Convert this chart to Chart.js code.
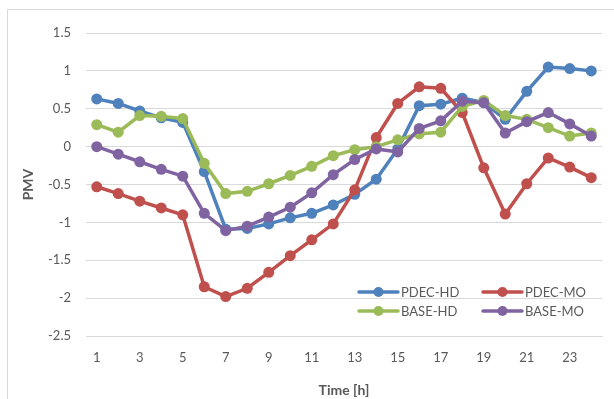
<!DOCTYPE html>
<html>
<head>
<meta charset="utf-8">
<script src="https://cdn.jsdelivr.net/npm/chart.js@4.4.1/dist/chart.umd.min.js"></script>
<style>
    html, body { margin: 0; padding: 0; background: #fff; }
</style>
</head>
<body>
<canvas id="pmv-chart" width="614" height="399"></canvas>
<script>
// Data
const hours = [1, 2, 3, 4, 5, 6, 7, 8, 9, 10, 11, 12, 13, 14, 15, 16, 17, 18, 19, 20, 21, 22, 23, 24];
const pdecHD = [0.63, 0.57, 0.47, 0.38, 0.32, -0.33, -1.09, -1.08, -1.02, -0.94, -0.88, -0.77, -0.63, -0.43, -0.03, 0.54, 0.56, 0.64, 0.58, 0.36, 0.73, 1.05, 1.03, 1.0];
const pdecMO = [-0.53, -0.62, -0.72, -0.81, -0.9, -1.85, -1.98, -1.87, -1.66, -1.44, -1.23, -1.02, -0.57, 0.12, 0.57, 0.79, 0.77, 0.45, -0.28, -0.89, -0.49, -0.15, -0.27, -0.41];
const baseHD = [0.29, 0.19, 0.41, 0.4, 0.37, -0.22, -0.62, -0.59, -0.49, -0.38, -0.26, -0.12, -0.04, 0.0, 0.09, 0.17, 0.19, 0.53, 0.61, 0.41, 0.36, 0.25, 0.14, 0.18];
const baseMO = [0.0, -0.1, -0.2, -0.3, -0.39, -0.88, -1.11, -1.05, -0.93, -0.8, -0.61, -0.37, -0.17, -0.03, -0.07, 0.24, 0.34, 0.6, 0.58, 0.18, 0.33, 0.45, 0.3, 0.14];

const seriesNames = ['PDEC-HD', 'PDEC-MO', 'BASE-HD', 'BASE-MO'];
const seriesColors = ['#4F81BD', '#C0504D', '#9BBB59', '#8064A2'];

const TEXT_GRAY = '#595959';
const GRID_GRAY = '#d9d9d9';
const FONT = 'Lato, "Liberation Sans", sans-serif';

// Plugins
const framePlugin = {
    id: 'frame',
    beforeDraw(chart) {
        const ctx = chart.ctx;
        ctx.save();
        ctx.strokeStyle = GRID_GRAY;
        ctx.lineWidth = 1;
        ctx.strokeRect(7.5, 9.5, 700, 500);
        ctx.restore();
    }
};

// legend sits inside the plot, bottom right, two columns
const insideLegend = {
    id: 'insideLegend',
    afterDatasetsDraw(chart) {
        const ctx = chart.ctx;
        const area = chart.chartArea;
        const cols = [359, 483];
        const rows = [area.bottom - 44, area.bottom - 25];
        ctx.save();
        ctx.font = '13px ' + FONT;
        ctx.textBaseline = 'middle';
        ctx.textAlign = 'left';
        seriesNames.forEach((name, i) => {
            const x = cols[i % 2];
            const y = rows[Math.floor(i / 2)];
            ctx.strokeStyle = seriesColors[i];
            ctx.lineWidth = 3.5;
            ctx.lineCap = 'round';
            ctx.beginPath();
            ctx.moveTo(x, y);
            ctx.lineTo(x + 39, y);
            ctx.stroke();
            ctx.fillStyle = seriesColors[i];
            ctx.beginPath();
            ctx.arc(x + 19.5, y, 5, 0, Math.PI * 2);
            ctx.fill();
            ctx.fillStyle = TEXT_GRAY;
            ctx.fillText(name, x + 42, y + 1);
        });
        ctx.restore();
    }
};

function makeDataset(label, data, color, order) {
    return {
        label,
        data,
        borderColor: color,
        backgroundColor: color,
        borderWidth: 3.5,
        pointRadius: 5.5,
        pointHoverRadius: 5.5,
        pointBorderWidth: 0,
        tension: 0,
        order
    };
}

const ctx = document.getElementById('pmv-chart').getContext('2d');
new Chart(ctx, {
    type: 'line',
    data: {
        labels: hours,
        datasets: [
            makeDataset(seriesNames[0], pdecHD, seriesColors[0], 4),
            makeDataset(seriesNames[1], pdecMO, seriesColors[1], 3),
            makeDataset(seriesNames[2], baseHD, seriesColors[2], 2),
            makeDataset(seriesNames[3], baseMO, seriesColors[3], 1)
        ]
    },
    options: {
        responsive: false,
        animation: false,
        layout: { padding: { top: 33, right: 12, bottom: 0, left: 0 } },
        plugins: {
            legend: { display: false },
            tooltip: { enabled: false }
        },
        scales: {
            x: {
                offset: true,
                grid: { display: false, drawTicks: false },
                border: { color: GRID_GRAY, width: 1 },
                ticks: {
                    autoSkip: false,
                    maxRotation: 0,
                    padding: 14,
                    color: TEXT_GRAY,
                    font: { family: FONT, size: 13 },
                    callback: (v, i) => (i % 2 === 0 ? hours[i] : '')
                },
                title: {
                    display: true,
                    text: 'Time [h]',
                    color: TEXT_GRAY,
                    font: { family: FONT, size: 14, weight: 'bold' },
                    padding: { top: 7, bottom: 0 }
                },
                afterFit: scale => { scale.height = 63; }
            },
            y: {
                min: -2.5,
                max: 1.5,
                grid: { color: GRID_GRAY, drawTicks: false },
                border: { display: false },
                ticks: {
                    stepSize: 0.5,
                    padding: 15,
                    color: TEXT_GRAY,
                    font: { family: FONT, size: 13 },
                    callback: v => String(v)
                },
                title: {
                    display: true,
                    text: 'PMV',
                    color: TEXT_GRAY,
                    font: { family: FONT, size: 14, weight: 'bold' },
                    padding: { top: 20, bottom: 0 }
                },
                afterFit: scale => { scale.width = 86; }
            }
        }
    },
    plugins: [framePlugin, insideLegend]
});
</script>
</body>
</html>
